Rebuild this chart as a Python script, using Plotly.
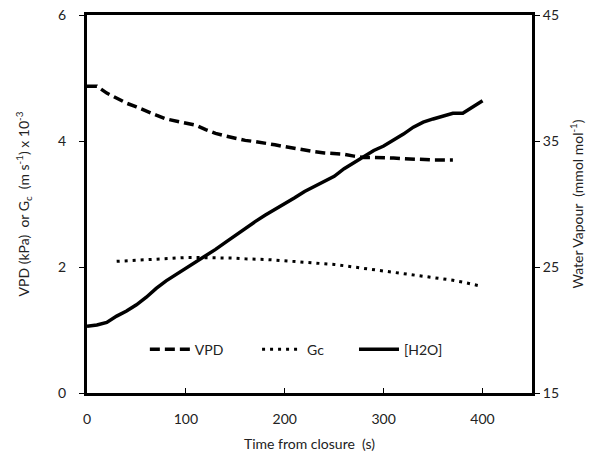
import plotly.graph_objects as go

# --- data ---
t_vpd = [0, 10, 20, 30, 40, 50, 60, 70, 80, 90, 100, 110, 120, 130, 140, 150, 160, 170, 180, 190,
         200, 210, 220, 230, 240, 250, 260, 270, 280, 290, 300, 310, 320, 330, 340, 350, 360, 370]
vpd = [4.87, 4.87, 4.76, 4.68, 4.60, 4.54, 4.47, 4.41, 4.35, 4.32, 4.28, 4.25, 4.18, 4.12, 4.08,
       4.04, 4.01, 3.99, 3.97, 3.94, 3.91, 3.88, 3.86, 3.83, 3.81, 3.80, 3.79, 3.76, 3.74, 3.74,
       3.74, 3.73, 3.72, 3.71, 3.70, 3.70, 3.70, 3.70]

t_gc = [30, 40, 50, 60, 70, 80, 90, 100, 110, 120, 130, 140, 150, 160, 170, 180, 190, 200, 210,
        220, 230, 240, 250, 260, 270, 280, 290, 300, 310, 320, 330, 340, 350, 360, 370, 380, 390, 400]
gc = [2.09, 2.10, 2.11, 2.12, 2.13, 2.14, 2.14, 2.15, 2.15, 2.15, 2.14, 2.14, 2.14, 2.13, 2.13,
      2.12, 2.11, 2.10, 2.09, 2.08, 2.07, 2.05, 2.04, 2.02, 2.00, 1.98, 1.96, 1.94, 1.92, 1.90,
      1.88, 1.86, 1.83, 1.81, 1.79, 1.76, 1.73, 1.69]

t_h2o = [0, 10, 20, 30, 40, 50, 60, 70, 80, 90, 100, 110, 120, 130, 140, 150, 160, 170, 180, 190,
         200, 210, 220, 230, 240, 250, 260, 270, 280, 290, 300, 310, 320, 330, 340, 350, 360, 370,
         380, 390, 400]
h2o = [20.3, 20.4, 20.6, 21.1, 21.5, 22.0, 22.6, 23.3, 23.9, 24.4, 24.9, 25.35, 25.9, 26.4, 26.95,
       27.5, 28.1, 28.6, 29.1, 29.55, 30.0, 30.5, 31.0, 31.4, 31.75, 32.2, 32.8, 33.3, 33.8, 34.25,
       34.6, 35.05, 35.55, 36.1, 36.5, 36.75, 36.95, 37.2, 37.2, 37.7, 38.2]

x_ticks = [0, 100, 200, 300, 400]
y_ticks = [0, 2, 4, 6]
y2_ticks = [15, 25, 35, 45]

legend_names = ["VPD" + "&nbsp;" * 8, "Gc" + "&nbsp;" * 7, "[H2O]"]

FONT = "Lato, 'Open Sans', sans-serif"

fig = go.Figure()
fig.add_trace(go.Scatter(x=t_vpd, y=vpd, mode="lines", name=legend_names[0],
                         line=dict(color="black", width=3.5, dash="10px,5px")))
fig.add_trace(go.Scatter(x=t_gc, y=gc, mode="lines", name=legend_names[1],
                         line=dict(color="black", width=3, dash="3px,5px")))
fig.add_trace(go.Scatter(x=t_h2o, y=h2o, mode="lines", name=legend_names[2], yaxis="y2",
                         line=dict(color="black", width=3.5)))

fig.update_layout(
    width=601, height=465,
    margin=dict(l=87, r=69, t=15, b=72, autoexpand=False),
    plot_bgcolor="white", paper_bgcolor="white",
    font=dict(family=FONT, size=14, color="#222"),
    showlegend=True,
    legend=dict(orientation="h", x=0.130, y=0.115, xanchor="left", yanchor="middle",
                bgcolor="rgba(0,0,0,0)", font=dict(size=14), itemwidth=40,
                tracegroupgap=0),
    xaxis=dict(range=[0, 450], tickvals=x_ticks, showgrid=False, zeroline=False,
               automargin=False,
               showline=True, linecolor="black", linewidth=3, mirror=True,
               ticks="inside", ticklen=5, tickcolor="black", tickwidth=1,
               ticklabelstandoff=11,
               title=dict(text="Time from closure  (s)", font=dict(size=14), standoff=14)),
    yaxis=dict(range=[0, 6], tickvals=y_ticks, showgrid=False, zeroline=False,
               automargin=False,
               showline=True, linecolor="black", linewidth=3,
               ticks="outside", ticklen=5, tickcolor="black", tickwidth=1,
               ticklabelstandoff=10,
               title=dict(text="VPD (kPa)  or G<sub>c</sub>  (m s<sup>-1</sup>) x 10<sup>-3</sup>",
                          font=dict(size=14), standoff=26)),
    yaxis2=dict(range=[15, 45], tickvals=y2_ticks, overlaying="y", side="right",
                showgrid=False, zeroline=False, automargin=False,
                showline=True, linecolor="black", linewidth=3,
                ticks="outside", ticklen=5, tickcolor="black", tickwidth=1,
                title=dict(text="Water Vapour  (mmol mol<sup>-1</sup>)",
                           font=dict(size=14), standoff=16)),
)

fig.write_html("out.html", config={"displayModeBar": False},
               post_script="document.body.style.margin='0';document.body.style.overflow='hidden';")
